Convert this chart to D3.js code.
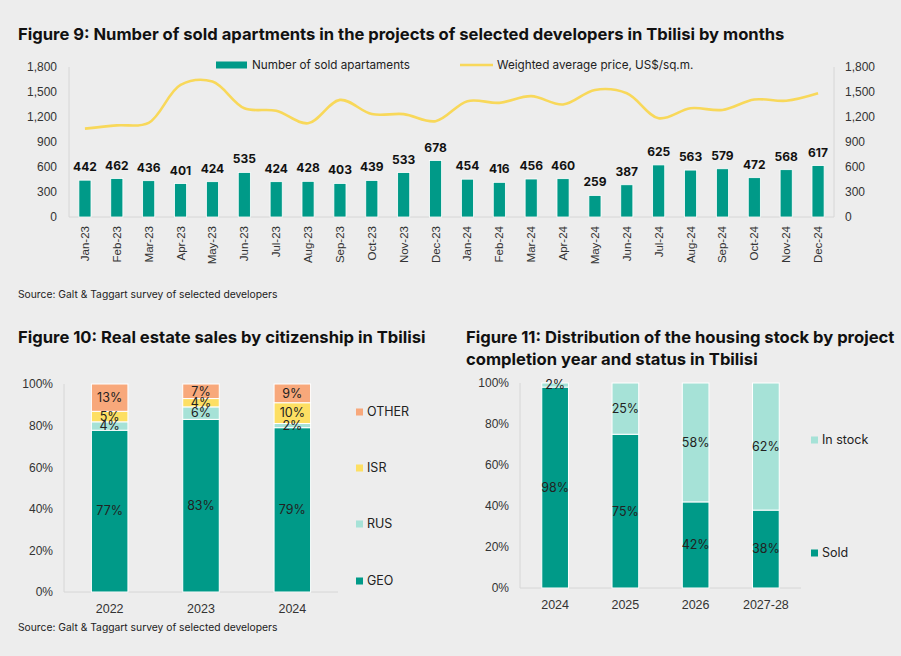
<!DOCTYPE html>
<html>
<head>
<meta charset="utf-8">
<script src="https://cdn.jsdelivr.net/npm/d3@7"></script>
<style>
  body { margin: 0; background: #ededed; }
  svg { font-family: Inter, Lato, sans-serif; }
  .title { font-weight: bold; font-size: 16.6px; fill: #111; }
  .source { font-size: 10.3px; fill: #222; }
  .axis text { font-size: 12px; fill: #333; }
  .axis path, .axis line { stroke: #d6d6d6; }
</style>
</head>
<body>
<svg id="chart" width="901" height="656"></svg>
<script>
"use strict";

// Figure 9 data
var months = ["Jan-23", "Feb-23", "Mar-23", "Apr-23", "May-23", "Jun-23", "Jul-23", "Aug-23",
    "Sep-23", "Oct-23", "Nov-23", "Dec-23", "Jan-24", "Feb-24", "Mar-24", "Apr-24", "May-24",
    "Jun-24", "Jul-24", "Aug-24", "Sep-24", "Oct-24", "Nov-24", "Dec-24"];
var soldApartments = [442, 462, 436, 401, 424, 535, 424, 428, 403, 439, 533, 678,
    454, 416, 456, 460, 259, 387, 625, 563, 579, 472, 568, 617];
var avgPrice = [1060, 1100, 1130, 1585, 1625, 1305, 1275, 1125, 1405, 1235, 1235, 1150,
    1390, 1370, 1450, 1350, 1525, 1485, 1185, 1305, 1285, 1410, 1395, 1485];
var leftTicks = [0, 300, 600, 900, 1200, 1500, 1800];

// Figure 10 data
var citYears = ["2022", "2023", "2024"];
var citGroups = ["GEO", "RUS", "ISR", "OTHER"];
var citGEO = [77, 83, 79];
var citRUS = [4, 6, 2];
var citISR = [5, 4, 10];
var citOTHER = [13, 7, 9];

// Figure 11 data
var stockYears = ["2024", "2025", "2026", "2027-28"];
var stockGroups = ["Sold", "In stock"];
var stockSold = [98, 75, 42, 38];
var stockInStock = [2, 25, 58, 62];

var pctTicks = [0, 0.2, 0.4, 0.6, 0.8, 1];

var teal = "#009a88";
var lightTeal = "#a6e2d7";
var yellow = "#fddf63";
var orange = "#f8a87b";
var lineYellow = "#f8d85a";

var svg = d3.select("#chart");

// ---------- Figure 9 ----------
svg.append("text").attr("class", "title").attr("x", 18).attr("y", 40)
    .text("Figure 9: Number of sold apartments in the projects of selected developers in Tbilisi by months");

var f9 = { left: 69, right: 834, top: 67, bottom: 217 };
var x9 = d3.scaleBand().domain(months).range([f9.left, f9.right]).paddingInner(0.62).paddingOuter(0.31);
var y9 = d3.scaleLinear().domain([0, 1800]).range([f9.bottom, f9.top]);

var g9 = svg.append("g");
g9.append("g").attr("class", "axis")
    .attr("transform", "translate(" + f9.left + ",0)")
    .call(d3.axisLeft(y9).tickValues(leftTicks).tickSize(0).tickPadding(12).tickFormat(d3.format(",")))
    .call(function (g) { g.select(".domain").attr("d", "M0," + f9.top + "V" + f9.bottom); });
g9.append("g").attr("class", "axis")
    .attr("transform", "translate(" + f9.right + ",0)")
    .call(d3.axisRight(y9).tickValues(leftTicks).tickSize(0).tickPadding(11).tickFormat(d3.format(",")))
    .call(function (g) { g.select(".domain").attr("d", "M0," + f9.top + "V" + f9.bottom); });
var xa9 = g9.append("g").attr("class", "axis")
    .attr("transform", "translate(0," + f9.bottom + ")")
    .call(d3.axisBottom(x9).tickSize(0).tickPadding(0));
xa9.select(".domain").attr("d", "M" + f9.left + ",0H" + f9.right);
xa9.selectAll("text")
    .attr("transform", "rotate(-90)")
    .attr("text-anchor", "end")
    .attr("dx", "-9")
    .attr("dy", "0.35em")
    .style("font-size", "11.5px");

g9.selectAll("rect.bar").data(soldApartments).enter().append("rect")
    .attr("class", "bar")
    .attr("x", function (d, i) { return x9(months[i]); })
    .attr("width", x9.bandwidth())
    .attr("y", function (d) { return y9(d); })
    .attr("height", function (d) { return f9.bottom - y9(d); })
    .attr("fill", teal)
    .attr("stroke", "#fff").attr("stroke-width", 0.8);

g9.selectAll("text.val").data(soldApartments).enter().append("text")
    .attr("class", "val")
    .attr("x", function (d, i) { return x9(months[i]) + x9.bandwidth() / 2; })
    .attr("y", function (d) { return y9(d) - 9; })
    .attr("text-anchor", "middle")
    .style("font-size", "12px").style("font-weight", "bold").style("fill", "#111")
    .text(function (d) { return d; });

var line9 = d3.line()
    .x(function (d, i) { return x9(months[i]) + x9.bandwidth() / 2; })
    .y(function (d) { return y9(d); })
    .curve(d3.curveCatmullRom.alpha(0.5));
g9.append("path").datum(avgPrice)
    .attr("d", line9)
    .attr("fill", "none")
    .attr("stroke", lineYellow)
    .attr("stroke-width", 2.6);

// legend
var lg9 = g9.append("g").attr("transform", "translate(0,65)");
lg9.append("rect").attr("x", 216).attr("y", -3.5).attr("width", 31).attr("height", 7).attr("fill", teal);
lg9.append("text").attr("x", 252).attr("dy", "0.35em").style("font-size", "11.7px").style("fill", "#222")
    .text("Number of sold apartaments");
lg9.append("line").attr("x1", 460).attr("x2", 493).attr("stroke", lineYellow).attr("stroke-width", 2.6);
lg9.append("text").attr("x", 497).attr("dy", "0.35em").style("font-size", "11.7px").style("fill", "#222")
    .text("Weighted average price, US$/sq.m.");

svg.append("text").attr("class", "source").attr("x", 18).attr("y", 298)
    .text("Source: Galt & Taggart survey of selected developers");

// ---------- stacked percent chart helper ----------
function stackedChart(opt) {
    var g = svg.append("g");
    var x = d3.scaleBand().domain(opt.cats).range([opt.left, opt.right])
        .paddingInner(opt.pad).paddingOuter(opt.pad / 2);
    var y = d3.scaleLinear().domain([0, 1]).range([opt.bottom, opt.top]);

    g.append("g").attr("class", "axis")
        .attr("transform", "translate(" + opt.left + ",0)")
        .call(d3.axisLeft(y).tickValues(pctTicks).tickSize(0).tickPadding(11).tickFormat(d3.format(".0%")))
        .call(function (s) { s.select(".domain").attr("d", "M0," + opt.top + "V" + opt.bottom); });
    var xa = g.append("g").attr("class", "axis")
        .attr("transform", "translate(0," + opt.bottom + ")")
        .call(d3.axisBottom(x).tickSize(0).tickPadding(12));
    xa.select(".domain").attr("d", "M" + opt.left + ",0H" + opt.right);
    xa.selectAll("text").style("font-size", "12.5px");

    var rows = opt.cats.map(function (c, i) {
        var r = { cat: c };
        opt.keys.forEach(function (k, j) { r[k] = opt.values[j][i]; });
        return r;
    });
    var series = d3.stack().keys(opt.keys).offset(d3.stackOffsetExpand)(rows);

    series.forEach(function (s, j) {
        g.selectAll(null).data(s).enter().append("rect")
            .attr("x", function (d) { return x(d.data.cat); })
            .attr("width", x.bandwidth())
            .attr("y", function (d) { return y(d[1]); })
            .attr("height", function (d) { return y(d[0]) - y(d[1]); })
            .attr("fill", opt.colors[j])
            .attr("stroke", "#fff").attr("stroke-width", 1);
    });
    series.forEach(function (s, j) {
        g.selectAll(null).data(s).enter().append("text")
            .attr("x", function (d) { return x(d.data.cat) + x.bandwidth() / 2; })
            .attr("y", function (d) { return (y(d[0]) + y(d[1])) / 2; })
            .attr("dy", "0.35em")
            .attr("text-anchor", "middle")
            .style("font-size", "12.5px").style("fill", "#222")
            .text(function (d) { return d.data[opt.keys[j]] + "%"; });
    });

    // legend, top entry is the last series
    opt.keys.forEach(function (k, j) {
        var ly = opt.legendY[j];
        g.append("rect").attr("x", opt.legendX).attr("y", ly - 3.5).attr("width", 7).attr("height", 7)
            .attr("fill", opt.colors[j]);
        g.append("text").attr("x", opt.legendX + 11).attr("y", ly).attr("dy", "0.35em")
            .style("font-size", "12.5px").style("fill", "#222").text(k);
    });
    return g;
}

// ---------- Figure 10 ----------
svg.append("text").attr("class", "title").attr("x", 18).attr("y", 343)
    .text("Figure 10: Real estate sales by citizenship in Tbilisi");
stackedChart({
    cats: citYears, keys: citGroups,
    values: [citGEO, citRUS, citISR, citOTHER],
    colors: [teal, lightTeal, yellow, orange],
    left: 64, right: 338, top: 384, bottom: 592, pad: 0.6,
    legendX: 356, legendY: [581, 524, 468, 412]
});
svg.append("text").attr("class", "source").attr("x", 18).attr("y", 631)
    .text("Source: Galt & Taggart survey of selected developers");

// ---------- Figure 11 ----------
svg.append("text").attr("class", "title").attr("x", 466).attr("y", 343)
    .text("Figure 11: Distribution of the housing stock by project");
svg.append("text").attr("class", "title").attr("x", 466).attr("y", 365)
    .text("completion year and status in Tbilisi");
stackedChart({
    cats: stockYears, keys: stockGroups,
    values: [stockSold, stockInStock],
    colors: [teal, lightTeal],
    left: 520, right: 801, top: 383, bottom: 588, pad: 0.62,
    legendX: 811, legendY: [553, 440]
});
</script>
</body>
</html>
